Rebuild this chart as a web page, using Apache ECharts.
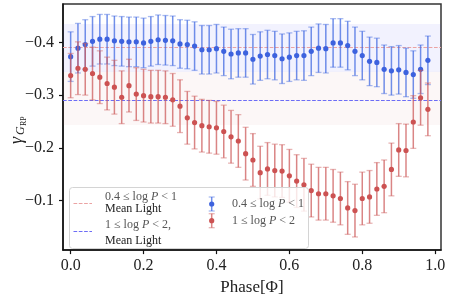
<!DOCTYPE html>
<html><head><meta charset="utf-8">
<script src="https://cdn.jsdelivr.net/npm/echarts@6/dist/echarts.min.js"></script>
<style>html,body{margin:0;padding:0;background:#fff}#c{width:449px;height:301px}</style>
</head><body><div id="c"></div>
<script>
const phase = [0.00,0.02,0.04,0.06,0.08,0.10,0.12,0.14,0.16,0.18,0.20,0.22,0.24,0.26,0.28,0.30,0.32,0.34,0.36,0.38,0.40,0.42,0.44,0.46,0.48,0.50,0.52,0.54,0.56,0.58,0.60,0.62,0.64,0.66,0.68,0.70,0.72,0.74,0.76,0.78,0.80,0.82,0.84,0.86,0.88,0.90,0.92,0.94,0.96,0.98];
const blueVals = [-0.373,-0.389,-0.396,-0.402,-0.406,-0.406,-0.403,-0.402,-0.401,-0.401,-0.399,-0.402,-0.405,-0.404,-0.403,-0.397,-0.396,-0.393,-0.386,-0.386,-0.388,-0.383,-0.378,-0.380,-0.380,-0.368,-0.374,-0.377,-0.375,-0.369,-0.372,-0.375,-0.375,-0.383,-0.389,-0.388,-0.399,-0.399,-0.394,-0.383,-0.375,-0.364,-0.362,-0.349,-0.346,-0.348,-0.343,-0.339,-0.349,-0.366];
const blueErr = [0.047,0.047,0.047,0.047,0.047,0.047,0.047,0.047,0.047,0.047,0.047,0.047,0.047,0.047,0.047,0.046,0.046,0.046,0.046,0.046,0.046,0.046,0.047,0.046,0.046,0.047,0.046,0.046,0.046,0.047,0.046,0.046,0.047,0.046,0.046,0.046,0.046,0.046,0.046,0.046,0.046,0.046,0.046,0.046,0.046,0.046,0.046,0.045,0.046,0.046];
const redVals = [-0.337,-0.351,-0.349,-0.341,-0.334,-0.322,-0.315,-0.296,-0.318,-0.302,-0.299,-0.297,-0.297,-0.296,-0.291,-0.279,-0.257,-0.248,-0.242,-0.240,-0.238,-0.231,-0.221,-0.213,-0.189,-0.177,-0.153,-0.160,-0.157,-0.156,-0.147,-0.137,-0.130,-0.119,-0.113,-0.113,-0.109,-0.104,-0.086,-0.081,-0.104,-0.107,-0.122,-0.127,-0.159,-0.196,-0.195,-0.249,-0.295,-0.273];
const redErr = [0.042,0.050,0.049,0.050,0.050,0.050,0.051,0.050,0.050,0.050,0.050,0.050,0.050,0.050,0.050,0.050,0.050,0.050,0.050,0.050,0.050,0.050,0.050,0.050,0.050,0.050,0.050,0.050,0.050,0.050,0.050,0.050,0.050,0.050,0.050,0.050,0.050,0.050,0.050,0.050,0.050,0.050,0.050,0.050,0.050,0.050,0.050,0.050,0.052,0.050];
const meanLight = [-0.3894, -0.2937];
const bandHalf = [0.0457, 0.0505];
const xTicks = [0.0,0.2,0.4,0.6,0.8,1.0];
const yTicks = [-0.4,-0.3,-0.2,-0.1];
const seriesNames = ['0.4 ≤ log P < 1', '1 ≤ log P < 2'];

const FONT = 'Liberation Serif';
const BLUE = '#3d62de', BLUE_BAR = 'rgba(65,105,225,0.75)', BLUE_CAP = 'rgba(65,105,225,0.45)';
const RED = '#cc5252', RED_BAR = 'rgba(205,92,92,0.75)', RED_CAP = 'rgba(205,92,92,0.45)';
const PINK_LINE = '#eba3a3', BLUE_LINE = '#6d6df6';

function errRender(dot, bar, cap){
  return function(params, api){
    const x = api.value(0), y = api.value(1), e = api.value(2);
    const c = api.coord([x, y]);
    const lo = api.coord([x, y - e]);
    const hi = api.coord([x, y + e]);
    const cw = 3;
    return {type:'group', children:[
      {type:'line', shape:{x1:lo[0], y1:lo[1], x2:hi[0], y2:hi[1]}, style:{stroke:bar, lineWidth:1.5}},
      {type:'line', shape:{x1:lo[0]-cw, y1:lo[1], x2:lo[0]+cw, y2:lo[1]}, style:{stroke:cap, lineWidth:1.3}},
      {type:'line', shape:{x1:hi[0]-cw, y1:hi[1], x2:hi[0]+cw, y2:hi[1]}, style:{stroke:cap, lineWidth:1.3}},
      {type:'circle', shape:{cx:c[0], cy:c[1], r:2.6}, style:{fill:dot}}
    ]};
  };
}

const blueData = phase.map((p,i)=>[p, blueVals[i], blueErr[i]]);
const redData = phase.map((p,i)=>[p, redVals[i], redErr[i]]);

const chart = echarts.init(document.getElementById('c'), null, {renderer:'canvas'});

const fmtY = v => (v < 0 ? '\u2212' : '') + Math.abs(v).toFixed(1);

const LX = 69.5, LY = 187.5, LW = 239, LH = 61;
function legendErr(x, y, dot, bar, cap){
  return [
    {type:'line', shape:{x1:x, y1:y-7, x2:x, y2:y+7}, style:{stroke:bar, lineWidth:1.5}, z:102},
    {type:'line', shape:{x1:x-3, y1:y-7, x2:x+3, y2:y-7}, style:{stroke:cap, lineWidth:1.3}, z:102},
    {type:'line', shape:{x1:x-3, y1:y+7, x2:x+3, y2:y+7}, style:{stroke:cap, lineWidth:1.3}, z:102},
    {type:'circle', shape:{cx:x, cy:y, r:2.6}, style:{fill:dot}, z:102}
  ];
}
const mathRich = {i:{fontFamily:FONT, fontStyle:'italic', fontSize:12, fill:'#555'}};
function mathText(s){ return s.replace('P', '{i|P}'); }

const graphics = [
  {type:'rect', shape:{x:LX, y:LY, width:LW, height:LH, r:3}, style:{fill:'rgba(255,255,255,0.8)', stroke:'#d4d4d4', lineWidth:1}, z:100},
  {type:'line', shape:{x1:73.5, y1:203.5, x2:92, y2:203.5}, style:{stroke:PINK_LINE, lineWidth:1.2, lineDash:[3.7,1.6]}, z:102},
  {type:'line', shape:{x1:73.5, y1:231.5, x2:92, y2:231.5}, style:{stroke:BLUE_LINE, lineWidth:1.2, lineDash:[3.7,1.6]}, z:102},
  {type:'text', x:105, y:197, style:{text:mathText(seriesNames[0]), fontFamily:FONT, fontSize:12, fill:'#555', verticalAlign:'middle', rich:mathRich}, z:102},
  {type:'text', x:105, y:209, style:{text:'Mean Light', fontFamily:FONT, fontSize:12, fill:'#222', verticalAlign:'middle'}, z:102},
  {type:'text', x:105, y:225, style:{text:mathText(seriesNames[1]) + ',', fontFamily:FONT, fontSize:12, fill:'#555', verticalAlign:'middle', rich:mathRich}, z:102},
  {type:'text', x:105, y:241, style:{text:'Mean Light', fontFamily:FONT, fontSize:12, fill:'#222', verticalAlign:'middle'}, z:102},
  ...legendErr(211.7, 204, BLUE, BLUE_BAR, BLUE_CAP),
  ...legendErr(211.7, 220.7, RED, RED_BAR, RED_CAP),
  {type:'text', x:232, y:204, style:{text:mathText(seriesNames[0]), fontFamily:FONT, fontSize:12, fill:'#555', verticalAlign:'middle', rich:mathRich}, z:102},
  {type:'text', x:232, y:220.7, style:{text:mathText(seriesNames[1]), fontFamily:FONT, fontSize:12, fill:'#555', verticalAlign:'middle', rich:mathRich}, z:102},
  {type:'group', x:17, y:130, rotation:Math.PI/2, children:[
    {type:'text', x:-14, y:0, style:{text:'γ', fontFamily:FONT, fontStyle:'italic', fontSize:18, fill:'#222', verticalAlign:'middle'}},
    {type:'text', x:-5, y:4, style:{text:'G', fontFamily:FONT, fontStyle:'italic', fontSize:12, fill:'#222', verticalAlign:'middle'}},
    {type:'text', x:4, y:7, style:{text:'RP', fontFamily:FONT, fontSize:8, fill:'#222', verticalAlign:'middle'}}
  ]}
];

chart.setOption({
  animation:false,
  backgroundColor:'#fff',
  grid:{left:63, top:4, right:8, bottom:47, show:true, borderColor:'#333', borderWidth:1.5, backgroundColor:'transparent'},
  xAxis:{
    type:'value', min:-0.021, max:1.016,
    name:'Phase[\u03A6]', nameLocation:'middle', nameGap:23,
    nameTextStyle:{fontFamily:FONT, fontSize:17, color:'#222'},
    axisLine:{show:true, onZero:false, lineStyle:{color:'#111', width:1.5}},
    axisTick:{show:true, customValues:xTicks, length:4, lineStyle:{color:'#111', width:1.2}},
    axisLabel:{customValues:xTicks, formatter:v=>Number(v).toFixed(1), fontFamily:FONT, fontSize:16, color:'#222', margin:8},
    splitLine:{show:false}
  },
  yAxis:{
    type:'value', inverse:true, min:-0.4728, max:-0.0061,
    axisLine:{show:true, onZero:false, lineStyle:{color:'#111', width:1.5}},
    axisTick:{show:true, customValues:yTicks, length:4, lineStyle:{color:'#111', width:1.2}},
    axisLabel:{customValues:yTicks, formatter:fmtY, fontFamily:FONT, fontSize:16, color:'#222', margin:9},
    splitLine:{show:false}
  },
  graphic:graphics,
  series:[
    {
      type:'custom', name:seriesNames[0], renderItem:errRender(BLUE, BLUE_BAR, BLUE_CAP),
      data:blueData, encode:{x:0, y:1}, z:5, clip:false,
      markArea:{silent:true, z:1, itemStyle:{color:'rgba(70,70,240,0.07)'},
        data:[[{yAxis:meanLight[0]-bandHalf[0]},{yAxis:meanLight[0]+bandHalf[0]}]]},
      markLine:{silent:true, symbol:'none', z:2, label:{show:false},
        lineStyle:{color:PINK_LINE, width:1.2, type:[3.7,1.6]},
        data:[{yAxis:meanLight[0]}]}
    },
    {
      type:'custom', name:seriesNames[1], renderItem:errRender(RED, RED_BAR, RED_CAP),
      data:redData, encode:{x:0, y:1}, z:6, clip:false,
      markArea:{silent:true, z:1, itemStyle:{color:'rgba(205,92,92,0.05)'},
        data:[[{yAxis:meanLight[1]-bandHalf[1]},{yAxis:meanLight[1]+bandHalf[1]}]]},
      markLine:{silent:true, symbol:'none', z:2, label:{show:false},
        lineStyle:{color:BLUE_LINE, width:1.2, type:[3.7,1.6]},
        data:[{yAxis:meanLight[1]}]}
    }
  ]
});
</script>
</body></html>
